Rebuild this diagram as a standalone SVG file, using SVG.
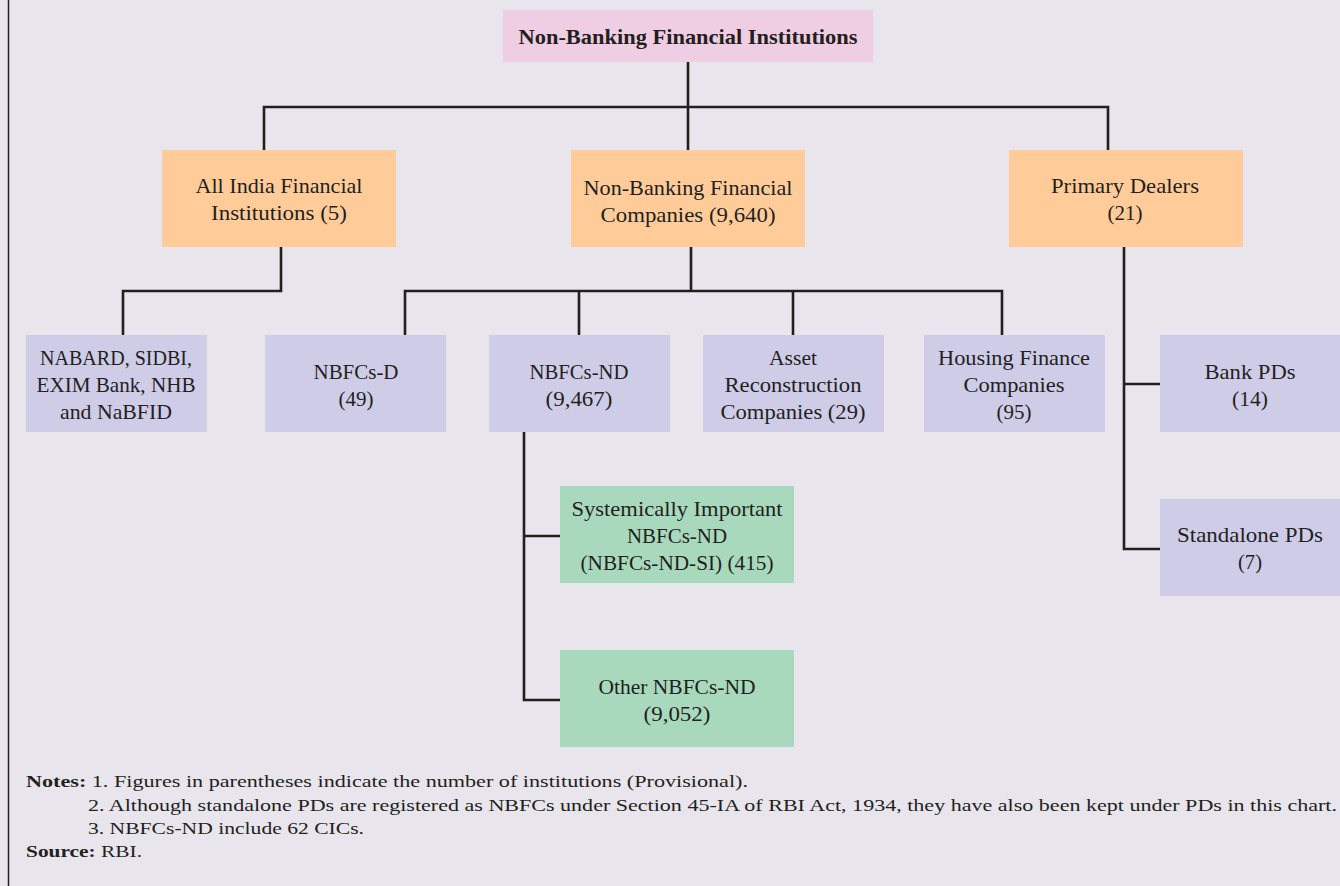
<svg xmlns="http://www.w3.org/2000/svg" width="1340" height="886" viewBox="0 0 1340 886">
<style>
.bg{fill:#e8e6ec}
.pink{fill:#efcde2}
.orange{fill:#ffcc99}
.lav{fill:#cfcce8}
.green{fill:#a8d9bd}
text{lengthAdjust:spacingAndGlyphs}
.t{font-family:"Liberation Serif","DejaVu Serif",serif;font-size:21px;fill:#231f20;text-anchor:middle}
.tb{font-family:"Liberation Serif","DejaVu Serif",serif;font-size:21px;font-weight:bold;fill:#231f20;text-anchor:middle}
.n{font-family:"Liberation Serif","DejaVu Serif",serif;font-size:17px;fill:#231f20}
.nb{font-weight:bold}
.c{fill:none;stroke:#231f20;stroke-width:2.6}
</style>
<rect class="bg" x="0" y="0" width="1340" height="886"/>
<line x1="8.5" y1="0" x2="8.5" y2="886" stroke="#231f20" stroke-width="1.5"/>
<g id="connectors">
<path class="c" d="M688 62 V107 M264 150 V107 H1108 V150 M688 107 V150"/>
<path class="c" d="M281 247 V291 H123 V335"/>
<path class="c" d="M691 247 V291 M405 335 V291 H1002 V335 M579 291 V335 M793 291 V335"/>
<path class="c" d="M1124 247 V549 H1160 M1124 384 H1160"/>
<path class="c" d="M524 432 V700 H560 M524 536 H560"/>
</g>
<g id="root"><rect class="pink" x="503" y="10" width="370" height="52"/><text class="tb" x="688" y="44" textLength="339" lengthAdjust="spacingAndGlyphs">Non-Banking Financial Institutions</text></g>
<g id="aifi"><rect class="orange" x="162" y="150" width="234" height="97"/><text class="t" x="279" y="193" textLength="167" lengthAdjust="spacingAndGlyphs">All India Financial</text><text class="t" x="279" y="220" textLength="136" lengthAdjust="spacingAndGlyphs">Institutions (5)</text></g>
<g id="nbfc"><rect class="orange" x="571" y="150" width="234" height="97"/><text class="t" x="688" y="195" textLength="209" lengthAdjust="spacingAndGlyphs">Non-Banking Financial</text><text class="t" x="688" y="222" textLength="175" lengthAdjust="spacingAndGlyphs">Companies (9,640)</text></g>
<g id="pd"><rect class="orange" x="1009" y="150" width="234" height="97"/><text class="t" x="1125" y="193" textLength="148" lengthAdjust="spacingAndGlyphs">Primary Dealers</text><text class="t" x="1125" y="220" textLength="35" lengthAdjust="spacingAndGlyphs">(21)</text></g>
<g id="nabard"><rect class="lav" x="26" y="335" width="181" height="97"/><text class="t" x="116" y="365" textLength="152" lengthAdjust="spacingAndGlyphs">NABARD, SIDBI,</text><text class="t" x="116" y="392" textLength="159" lengthAdjust="spacingAndGlyphs">EXIM Bank, NHB</text><text class="t" x="116" y="419" textLength="112" lengthAdjust="spacingAndGlyphs">and NaBFID</text></g>
<g id="nbfcsd"><rect class="lav" x="265" y="335" width="181" height="97"/><text class="t" x="356" y="379" textLength="85" lengthAdjust="spacingAndGlyphs">NBFCs-D</text><text class="t" x="356" y="406" textLength="35" lengthAdjust="spacingAndGlyphs">(49)</text></g>
<g id="nbfcsnd"><rect class="lav" x="489" y="335" width="181" height="97"/><text class="t" x="579" y="379" textLength="99" lengthAdjust="spacingAndGlyphs">NBFCs-ND</text><text class="t" x="579" y="406" textLength="67" lengthAdjust="spacingAndGlyphs">(9,467)</text></g>
<g id="arc"><rect class="lav" x="703" y="335" width="181" height="97"/><text class="t" x="793" y="365" textLength="48" lengthAdjust="spacingAndGlyphs">Asset</text><text class="t" x="793" y="392" textLength="137" lengthAdjust="spacingAndGlyphs">Reconstruction</text><text class="t" x="793" y="419" textLength="145" lengthAdjust="spacingAndGlyphs">Companies (29)</text></g>
<g id="hfc"><rect class="lav" x="924" y="335" width="181" height="97"/><text class="t" x="1014" y="365" textLength="152" lengthAdjust="spacingAndGlyphs">Housing Finance</text><text class="t" x="1014" y="392" textLength="101" lengthAdjust="spacingAndGlyphs">Companies</text><text class="t" x="1014" y="419" textLength="35" lengthAdjust="spacingAndGlyphs">(95)</text></g>
<g id="bankpd"><rect class="lav" x="1160" y="335" width="180" height="97"/><text class="t" x="1250" y="379" textLength="91" lengthAdjust="spacingAndGlyphs">Bank PDs</text><text class="t" x="1250" y="406" textLength="36" lengthAdjust="spacingAndGlyphs">(14)</text></g>
<g id="standalonepd"><rect class="lav" x="1160" y="499" width="180" height="97"/><text class="t" x="1250" y="542" textLength="146" lengthAdjust="spacingAndGlyphs">Standalone PDs</text><text class="t" x="1250" y="569" textLength="24" lengthAdjust="spacingAndGlyphs">(7)</text></g>
<g id="si"><rect class="green" x="560" y="486" width="234" height="97"/><text class="t" x="677" y="516" textLength="211" lengthAdjust="spacingAndGlyphs">Systemically Important</text><text class="t" x="677" y="543" textLength="100" lengthAdjust="spacingAndGlyphs">NBFCs-ND</text><text class="t" x="677" y="570" textLength="193" lengthAdjust="spacingAndGlyphs">(NBFCs-ND-SI) (415)</text></g>
<g id="other"><rect class="green" x="560" y="650" width="234" height="97"/><text class="t" x="677" y="694" textLength="157" lengthAdjust="spacingAndGlyphs">Other NBFCs-ND</text><text class="t" x="677" y="721" textLength="67" lengthAdjust="spacingAndGlyphs">(9,052)</text></g>
<g id="notes">
<text class="n" x="26" y="787" textLength="722" lengthAdjust="spacingAndGlyphs"><tspan class="nb">Notes:</tspan> 1. Figures in parentheses indicate the number of institutions (Provisional).</text>
<text class="n" x="88" y="811" textLength="1249" lengthAdjust="spacingAndGlyphs">2. Although standalone PDs are registered as NBFCs under Section 45-IA of RBI Act, 1934, they have also been kept under PDs in this chart.</text>
<text class="n" x="88" y="834" textLength="276" lengthAdjust="spacingAndGlyphs">3. NBFCs-ND include 62 CICs.</text>
<text class="n" x="26" y="857" textLength="116" lengthAdjust="spacingAndGlyphs"><tspan class="nb">Source:</tspan> RBI.</text>
</g>
</svg>
